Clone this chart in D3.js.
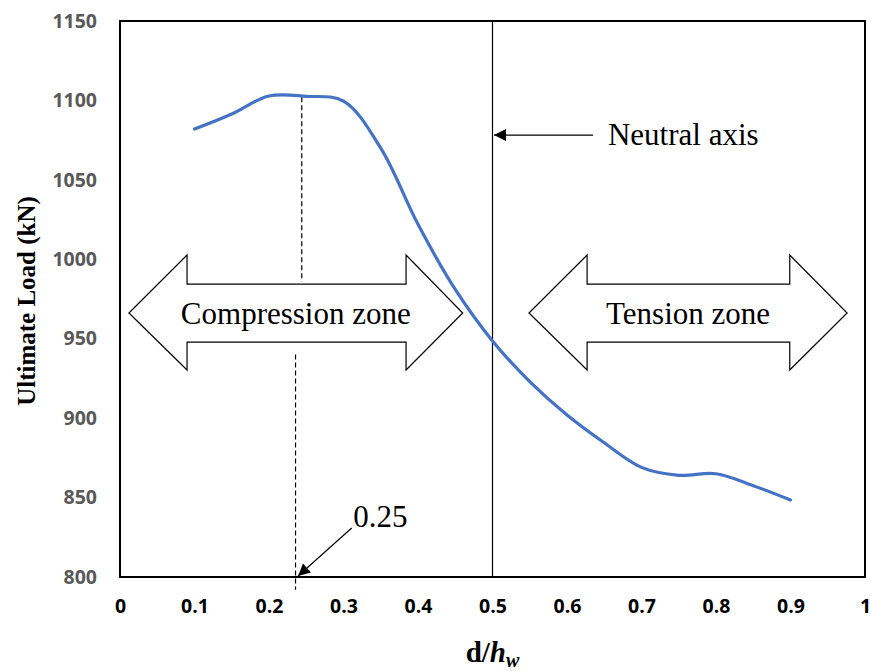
<!DOCTYPE html>
<html>
<head>
<meta charset="utf-8">
<script src="https://cdn.jsdelivr.net/npm/d3@7"></script>
<style>
  body { margin: 0; background: #fff; }
  svg { display: block; }
</style>
</head>
<body>
<div id="chart"></div>
<script>
// Chart size and plot box
const width = 870;
const height = 671;
const margin = {left: 120, right: 5, top: 21, bottom: 94};

// Data
const dRatio = [0.1, 0.15, 0.2, 0.25, 0.3, 0.35, 0.4, 0.45, 0.5, 0.55, 0.6, 0.65, 0.7, 0.75, 0.8, 0.85, 0.9];
const loadKN = [1082, 1091.5, 1102.8, 1102.6, 1099.6, 1070, 1022, 981, 948.6, 923, 902, 884.5, 869, 864, 865, 857.5, 848.5];

// Tick labels
const xTicks = [0, 0.1, 0.2, 0.3, 0.4, 0.5, 0.6, 0.7, 0.8, 0.9, 1];
const yTicks = [800, 850, 900, 950, 1000, 1050, 1100, 1150];

const svg = d3.select("#chart")
  .append("svg")
  .attr("width", width)
  .attr("height", height);

// Scales
const xScale = d3.scaleLinear()
  .domain([0, 1])
  .range([margin.left, width - margin.right]);

const yScale = d3.scaleLinear()
  .domain([800, 1150])
  .range([height - margin.bottom, margin.top]);

// arrow marker
svg.append("defs").append("marker")
  .attr("id", "head")
  .attr("viewBox", "0 0 10 10")
  .attr("refX", 10)
  .attr("refY", 5)
  .attr("markerUnits", "userSpaceOnUse")
  .attr("markerWidth", 15)
  .attr("markerHeight", 12)
  .attr("orient", "auto")
  .append("path")
  .attr("d", "M0,0 L10,5 L0,10 Z")
  .attr("fill", "#000");

// Y axis labels
svg.append("g")
  .attr("transform", `translate(${margin.left}, 0)`)
  .call(d3.axisLeft(yScale).tickValues(yTicks).tickSize(0).tickPadding(23).tickFormat(d3.format("d")))
  .call(g => g.select(".domain").remove())
  .selectAll("text")
  .attr("font-family", "'Open Sans', sans-serif")
  .attr("font-weight", "bold")
  .attr("font-size", "19.5px")
  .attr("fill", "#595959");

// X axis labels
svg.append("g")
  .attr("transform", `translate(0, ${height - margin.bottom})`)
  .call(d3.axisBottom(xScale).tickValues(xTicks).tickSize(0).tickPadding(22)
    .tickFormat(d => d3.format("")(+d.toFixed(1))))
  .call(g => g.select(".domain").remove())
  .selectAll("text")
  .attr("font-family", "'Open Sans', sans-serif")
  .attr("font-weight", "bold")
  .attr("font-size", "19.5px")
  .attr("fill", "#000");

// plot frame
svg.append("rect")
  .attr("x", xScale(0))
  .attr("y", yScale(1150))
  .attr("width", xScale(1) - xScale(0))
  .attr("height", yScale(800) - yScale(1150))
  .attr("fill", "none")
  .attr("stroke", "#000")
  .attr("stroke-width", 2);

// neutral axis line
svg.append("line")
  .attr("x1", xScale(0.5)).attr("x2", xScale(0.5))
  .attr("y1", yScale(1150)).attr("y2", yScale(800))
  .attr("stroke", "#000")
  .attr("stroke-width", 1.2);

// Double arrows
const zones = [
  {label: "Compression zone", x0: 0.012, h0: 0.09, h1: 0.384, x1: 0.46},
  {label: "Tension zone", x0: 0.549, h0: 0.627, h1: 0.899, x1: 0.976}
];
const arrowMid = 966.2, arrowTop = 1002.7, arrowBot = 930.3, shaftTop = 984.4, shaftBot = 947.9;

zones.forEach(z => {
  const pts = [
    [z.x0, arrowMid], [z.h0, arrowTop], [z.h0, shaftTop], [z.h1, shaftTop], [z.h1, arrowTop],
    [z.x1, arrowMid], [z.h1, arrowBot], [z.h1, shaftBot], [z.h0, shaftBot], [z.h0, arrowBot]
  ];
  svg.append("polygon")
    .attr("points", pts.map(p => [xScale(p[0]), yScale(p[1])].join(",")).join(" "))
    .attr("fill", "#fff")
    .attr("stroke", "#000")
    .attr("stroke-width", 1.2);
  svg.append("text")
    .attr("x", xScale((z.x0 + z.x1) / 2))
    .attr("y", yScale(arrowMid) + 11)
    .attr("text-anchor", "middle")
    .attr("font-family", "'Liberation Serif', serif")
    .attr("font-size", "31px")
    .text(z.label);
});

// dashed guide lines near 0.25
svg.append("line")
  .attr("x1", xScale(0.244)).attr("x2", xScale(0.244))
  .attr("y1", yScale(1102)).attr("y2", yScale(986))
  .attr("stroke", "#000").attr("stroke-width", 1.2)
  .attr("stroke-dasharray", "5,3");

svg.append("line")
  .attr("x1", xScale(0.2356)).attr("x2", xScale(0.2356))
  .attr("y1", yScale(940)).attr("y2", yScale(792))
  .attr("stroke", "#000").attr("stroke-width", 1.2)
  .attr("stroke-dasharray", "5,3");

// The curve
const line = d3.line()
  .x((d, i) => xScale(dRatio[i]))
  .y(d => yScale(d))
  .curve(d3.curveCatmullRom.alpha(0.5));

svg.append("path")
  .datum(loadKN)
  .attr("d", line)
  .attr("fill", "none")
  .attr("stroke", "#4472C4")
  .attr("stroke-width", 3.2)
  .attr("stroke-linecap", "round");

// Neutral axis annotation
svg.append("line")
  .attr("x1", xScale(0.635)).attr("x2", xScale(0.502))
  .attr("y1", yScale(1078.2)).attr("y2", yScale(1078.2))
  .attr("stroke", "#000").attr("stroke-width", 1.2)
  .attr("marker-end", "url(#head)");

svg.append("text")
  .attr("x", xScale(0.655))
  .attr("y", yScale(1072))
  .attr("font-family", "'Liberation Serif', serif")
  .attr("font-size", "31px")
  .text("Neutral axis");

// 0.25 annotation
svg.append("line")
  .attr("x1", xScale(0.311)).attr("x2", xScale(0.239))
  .attr("y1", yScale(830.8)).attr("y2", yScale(800.6))
  .attr("stroke", "#000").attr("stroke-width", 1.2)
  .attr("marker-end", "url(#head)");

svg.append("text")
  .attr("x", xScale(0.313))
  .attr("y", yScale(831.5))
  .attr("font-family", "'Liberation Serif', serif")
  .attr("font-size", "31px")
  .text("0.25");

// Axis titles
svg.append("text")
  .attr("transform", `translate(35, ${(yScale(800) + yScale(1150)) / 2 + 2}) rotate(-90)`)
  .attr("text-anchor", "middle")
  .attr("font-family", "'Liberation Serif', serif")
  .attr("font-weight", "bold")
  .attr("font-size", "25px")
  .text("Ultimate Load (kN)");

const xTitle = svg.append("text")
  .attr("x", xScale(0.5))
  .attr("y", 662)
  .attr("text-anchor", "middle")
  .attr("font-family", "'Liberation Serif', serif")
  .attr("font-weight", "bold")
  .attr("font-size", "29px");
xTitle.append("tspan").text("d/");
xTitle.append("tspan").attr("font-style", "italic").text("h");
xTitle.append("tspan").attr("font-style", "italic").attr("font-size", "20px").attr("dy", 5).text("w");
</script>
</body>
</html>
